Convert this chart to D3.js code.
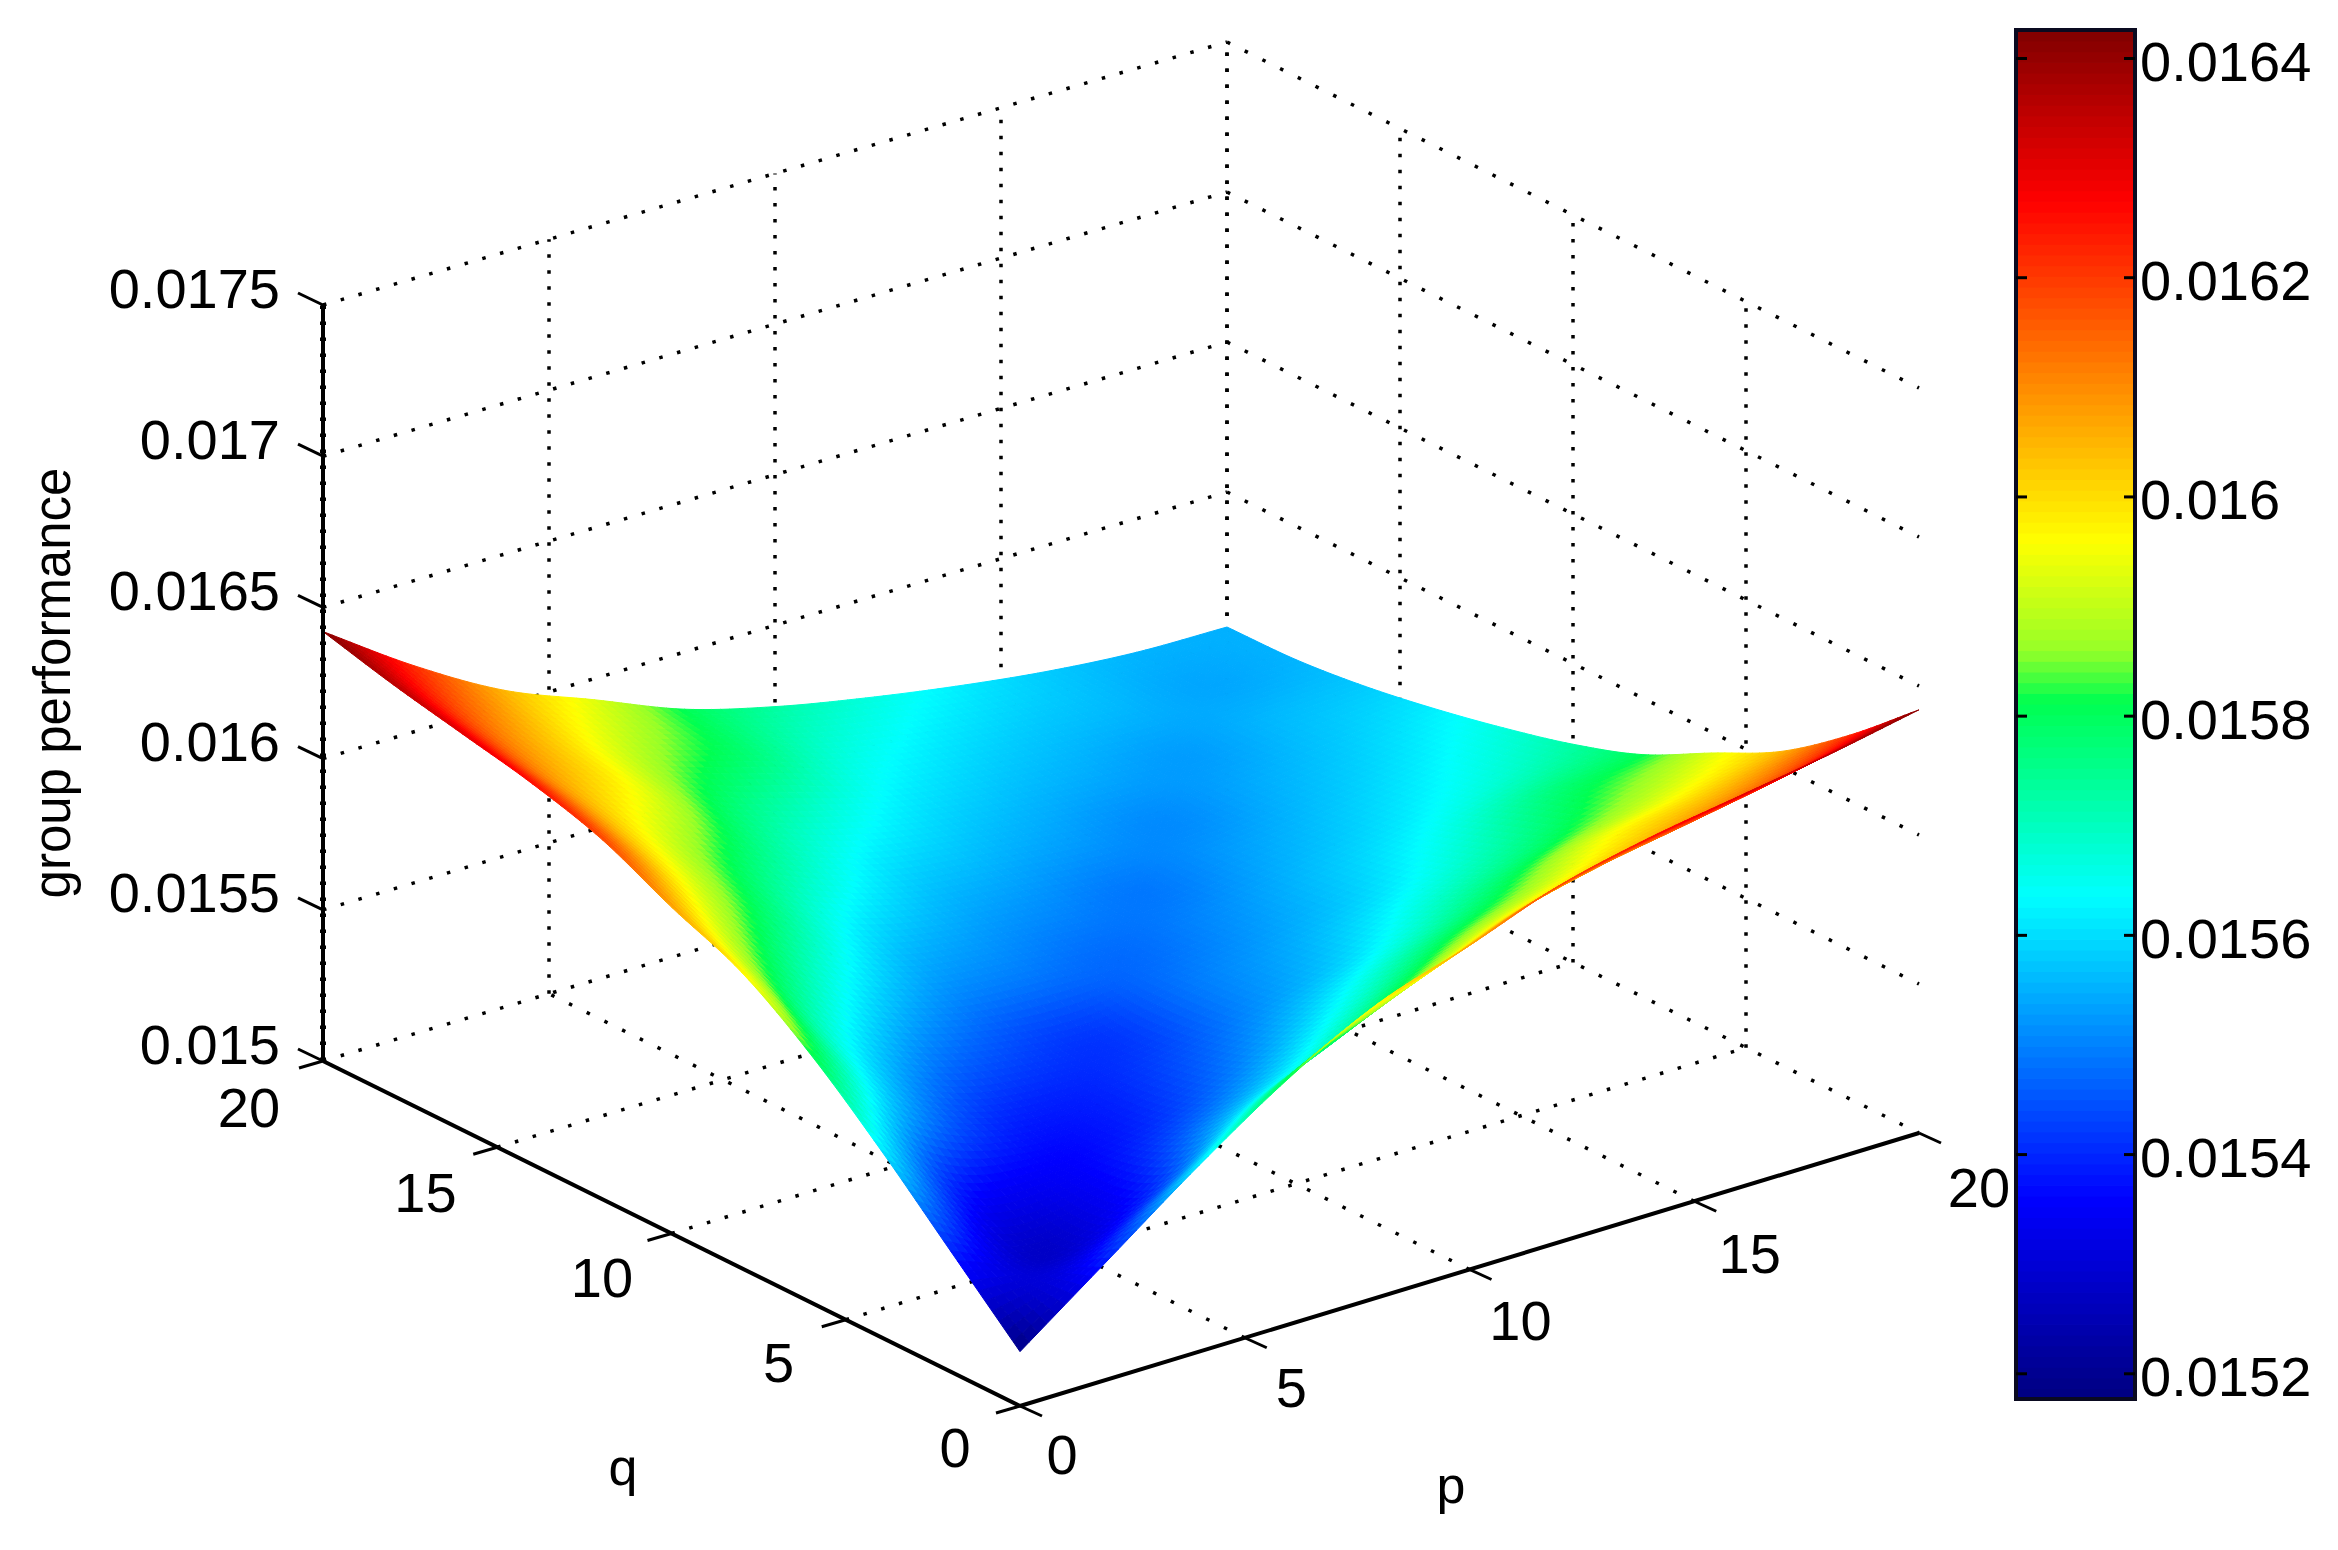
<!DOCTYPE html>
<html><head><meta charset="utf-8">
<script src="https://cdn.jsdelivr.net/npm/d3@7/dist/d3.min.js"></script>
<style>html,body{margin:0;background:#fff}svg{display:block}text{font-family:"Liberation Sans",Arial,sans-serif;fill:#000}</style>
</head><body><svg id="c" width="2338" height="1550"></svg>
<script>
// Ticks
const pTicks=[0,5,10,15,20];
const qTicks=[0,5,10,15,20];
const zTicks=[0.015,0.0155,0.016,0.0165,0.017,0.0175];
const zTickLabels=["0.015","0.0155","0.016","0.0165","0.017","0.0175"];
const barTicks=[0.0152,0.0154,0.0156,0.0158,0.016,0.0162,0.0164];
const barTickLabels=["0.0152","0.0154","0.0156","0.0158","0.016","0.0162","0.0164"];
// Surface samples: p = 0,2,...,20 along each row, one row per q
const gridP=[0,2,4,6,8,10,12,14,16,18,20];
const gridQ=[0,2,4,6,8,10,12,14,16,18,20];
const rowQ0 =[.01518,.01540,.01562,.01582,.01598,.01608,.01619,.01626,.01631,.01636,.01642];
const rowQ2 =[.01540,.01528,.01537,.01555,.01568,.01582,.01594,.01602,.01608,.01614,.01622];
const rowQ4 =[.01562,.01537,.01535,.01541,.01551,.01563,.01575,.01584,.01594,.01599,.01605];
const rowQ6 =[.01582,.01555,.01541,.01539,.01544,.01552,.01560,.01570,.01578,.01586,.01593];
const rowQ8 =[.01598,.01568,.01551,.01544,.01542,.01549,.01554,.01560,.01568,.01577,.01581];
const rowQ10=[.01608,.01582,.01563,.01552,.01549,.015475,.01551,.01556,.01561,.01567,.01573];
const rowQ12=[.01619,.01594,.01575,.01560,.01554,.01551,.01549,.01553,.01557,.015615,.01567];
const rowQ14=[.01626,.01602,.01584,.01570,.01560,.01556,.01553,.01551,.015545,.01558,.01562];
const rowQ16=[.01631,.01608,.01594,.01578,.01568,.01561,.01557,.015545,.01553,.01556,.01558];
const rowQ18=[.01636,.01614,.01599,.01586,.01577,.01567,.015615,.01558,.01556,.01554,.015555];
const rowQ20=[.01642,.01622,.01605,.01593,.01581,.01573,.01567,.01562,.01558,.015555,.01555];
const rows=[rowQ0,rowQ2,rowQ4,rowQ6,rowQ8,rowQ10,rowQ12,rowQ14,rowQ16,rowQ18,rowQ20];
const colorValues=[0.015177,0.01536,0.015636,0.015814,0.01586,0.01596,0.01627,0.016426];
const colorStops=["#000080","#0000ff","#00ffff","#00ff50","#96ff28","#ffff00","#ff0000","#800000"];

const svg=d3.select("#c");
const pS=d3.scaleLinear().domain([0,20]).range([0,1]);
const qS=d3.scaleLinear().domain([0,20]).range([0,1]);
const zS=d3.scaleLinear().domain([0.015,0.0175]).range([0,1]);
const corner={f:[1020,1406,755],r:[1919,1133,745],l:[323,1061,756],b:[1227,792,750]};
function proj(p,q,z){
  const u=pS(p),v=qS(q);
  const m=i=>(1-u)*(1-v)*corner.f[i]+u*(1-v)*corner.r[i]+(1-u)*v*corner.l[i]+u*v*corner.b[i];
  return [m(0),m(1)-zS(z)*m(2)];
}
const domainLo=colorValues[0],domainHi=colorValues[colorValues.length-1];
const cS=d3.scaleLinear().domain(colorValues).range(colorStops).clamp(true);
const line=d3.line();
const gz=zTicks[0];
function dot(a,b,g,w){
  const dx=Math.abs(b[0]-a[0]),len=Math.hypot(b[0]-a[0],b[1]-a[1]);
  const period=dx<1?16:17.7*len/dx;
  return g.append("path").attr("d",line([a,b])).attr("fill","none").attr("stroke","#000")
    .attr("stroke-width",w||3.5).attr("stroke-dasharray",`3.5 ${period-3.5}`);
}

// Grid
const grid=svg.append("g");
pTicks.forEach(p=>{
  if(p>0)dot(proj(p,20,zTicks[0]),proj(p,20,zTicks[5]),grid);
  if(p>0&&p<20)dot(proj(p,0,gz),proj(p,20,gz),grid);
});
qTicks.forEach(q=>{
  if(q>0)dot(proj(20,q,zTicks[0]),proj(20,q,zTicks[5]),grid);
  if(q>0&&q<20)dot(proj(0,q,gz),proj(20,q,gz),grid);
});
zTicks.forEach(z=>{
  dot(proj(0,20,z),proj(20,20,z),grid);
  dot(proj(20,20,z),proj(20,0,z),grid);
});

// Surface
function cr(a,b,c,d,t){return 0.5*(2*b+(c-a)*t+(2*a-5*b+4*c-d)*t*t+(3*b-a-3*c+d)*t*t*t);}
const last=gridP.length-1;
function g(i,j){
  if(i<0)return 2*g(0,j)-g(1,j);
  if(i>last)return 2*g(last,j)-g(last-1,j);
  if(j<0)return 2*g(i,0)-g(i,1);
  if(j>last)return 2*g(i,last)-g(i,last-1);
  return rows[j][i];
}
function value(p,q){
  const fi=Math.min(p/2,last-1e-6),fj=Math.min(q/2,last-1e-6);
  const i=Math.floor(fi),j=Math.floor(fj),t=fi-i,s=fj-j;
  const col=[j-1,j,j+1,j+2].map(k=>cr(g(i-1,k),g(i,k),g(i+1,k),g(i+2,k),t));
  return cr(col[0],col[1],col[2],col[3],s);
}
const sub=10,cells=[];
for(let j=last*sub-1;j>=0;j--)for(let i=last*sub-1;i>=0;i--)cells.push([i,j]);
const stepP=(gridP[1]-gridP[0])/sub,stepQ=(gridQ[1]-gridQ[0])/sub;
svg.append("g").selectAll("path").data(cells).join("path")
 .attr("d",([i,j])=>{
   const a=i*stepP,b=(i+1)*stepP,c=j*stepQ,d=(j+1)*stepQ;
   return line([[a,c],[b,c],[b,d],[a,d]].map(([p,q])=>proj(p,q,value(p,q))))+"Z";})
 .attr("fill",([i,j])=>cS(value((i+.5)*stepP,(j+.5)*stepQ)))
 .attr("stroke",([i,j])=>cS(value((i+.5)*stepP,(j+.5)*stepQ)))
 .attr("stroke-width",1);

// Axes
const ax=svg.append("g").attr("fill","none").attr("stroke","#000").attr("stroke-width",4);
ax.append("path").attr("d",line([proj(0,20,zTicks[5]),proj(0,20,zTicks[0])]));
ax.append("path").attr("d",line([proj(0,20,gz),proj(0,0,gz)]));
ax.append("path").attr("d",line([proj(0,0,gz),proj(20,0,gz)]));
dot(proj(0,20,zTicks[0]),proj(0,20,zTicks[5]),svg.append("g"),6);
const tk=svg.append("g").attr("fill","none").attr("stroke","#000").attr("stroke-width",3);
zTicks.forEach(z=>{const a=proj(0,20,z);tk.append("path").attr("d",line([a,[a[0]-25,a[1]-12]]));});
qTicks.forEach(q=>{const a=proj(0,q,gz);tk.append("path").attr("d",line([a,[a[0]-24,a[1]+7]]));});
pTicks.forEach(p=>{const a=proj(p,0,gz);tk.append("path").attr("d",line([a,[a[0]+22,a[1]+10]]));});

// Tick labels: offsets from the projected tick
const txt=(x,y,s,size,anchor)=>svg.append("text").attr("x",x).attr("y",y).attr("font-size",size).attr("text-anchor",anchor||"middle").attr("dominant-baseline","central").text(s);
zTicks.forEach((z,i)=>{const a=proj(0,20,z);txt(a[0]-43,a[1]-17,zTickLabels[i],56,"end");});
qTicks.forEach(q=>{const a=proj(0,q,gz);txt(a[0]-65-q*.45,a[1]+41+q*.25,String(q),56);});
pTicks.forEach(p=>{const a=proj(p,0,gz);txt(a[0]+42+p*.9,a[1]+48+p*.3,String(p),56);});
txt(623,1467,"q",52);
txt(1451,1485,"p",52);
svg.append("text").attr("transform","translate(52,683) rotate(-90)").attr("font-size",51).attr("text-anchor","middle").attr("dominant-baseline","central").text("group performance");

// Colour bar
const barX=d3.scaleLinear().domain([0,1]).range([2016,2135]);
const barY=d3.scaleLinear().domain([domainLo,domainHi]).range([1399,30]);
const levels=d3.range(128);
const span=domainHi-domainLo;
svg.append("g").selectAll("rect").data(levels).join("rect")
 .attr("x",barX(0)).attr("width",barX(1)-barX(0))
 .attr("y",l=>barY(domainLo+(l+1)/128*span))
 .attr("height",l=>barY(domainLo)-barY(domainLo+span/128)+0.8)
 .attr("fill",l=>cS(domainLo+(l+.5)/128*span));
svg.append("rect").attr("x",barX(0)).attr("y",barY(domainHi)).attr("width",barX(1)-barX(0)).attr("height",barY(domainLo)-barY(domainHi)).attr("fill","none").attr("stroke","#0a0a20").attr("stroke-width",4);
barTicks.forEach((t,i)=>{
  const y=barY(t);
  svg.append("path").attr("d",line([[barX(0),y],[barX(0)+11,y]])).attr("stroke","#000").attr("stroke-width",3);
  svg.append("path").attr("d",line([[barX(1)-11,y],[barX(1),y]])).attr("stroke","#000").attr("stroke-width",3);
  txt(2140,y+3,barTickLabels[i],56,"start");
});
</script></body></html>
